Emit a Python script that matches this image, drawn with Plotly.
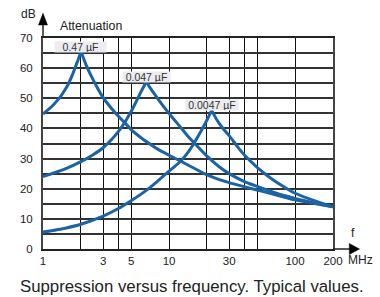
import plotly.graph_objects as go
import math

# ---- data (frequency in MHz, attenuation in dB) ----
cap_labels = ["0.47 µF", "0.047 µF", "0.0047 µF"]

a_rise_f = [1, 1.1, 1.2, 1.3, 1.4, 1.5, 1.6, 1.7, 1.8, 1.9, 2]
a_rise_db = [44.8, 46.2, 47.7, 49.3, 51.0, 52.9, 55.0, 57.5, 60.2, 62.8, 65.5]
a_fall_f = [2, 2.2, 2.4, 2.7, 3, 3.5, 4, 4.5, 5, 6, 7, 8, 10, 12.4, 15, 20, 30, 40, 50, 70, 100, 150, 200]
a_fall_db = [65.5, 61.0, 57.6, 53.5, 50.2, 46.6, 43.9, 41.7, 39.6, 36.9, 34.9, 33.3, 31.1, 29.1,
             27.3, 24.6, 22.0, 20.6, 19.6, 18.0, 16.3, 14.9, 14.0]

b_rise_f = [1, 1.5, 2, 2.5, 3, 3.5, 4, 4.5, 5, 5.5, 6, 6.6]
b_rise_db = [24.0, 26.6, 29.0, 31.3, 33.6, 36.3, 39.2, 42.3, 45.6, 49.0, 52.2, 55.5]
b_fall_f = [6.6, 7, 8, 9, 10, 12, 14, 16, 20, 25, 30, 40, 50, 70, 100, 150, 200]
b_fall_db = [55.5, 53.8, 50.3, 47.4, 45.0, 41.0, 37.6, 35.0, 30.8, 27.3, 25.0, 22.3, 20.8,
             18.6, 16.8, 15.1, 14.0]

c_rise_f = [1, 1.5, 2, 3, 4, 5, 6, 7, 8, 10, 12, 14, 16, 18, 20, 21.8]
c_rise_db = [5.6, 6.9, 8.2, 10.9, 13.5, 16.0, 18.2, 20.3, 22.3, 25.8, 28.6, 31.8, 35.5, 39.2,
             42.8, 46.0]
c_fall_f = [21.8, 24, 27, 30, 35, 40, 50, 60, 70, 100, 150, 200]
c_fall_db = [46.0, 42.8, 39.8, 37.6, 33.9, 31.0, 27.1, 24.4, 22.4, 18.5, 15.7, 14.0]

x_grid_vals = [1, 2, 3, 4, 5, 10, 20, 30, 40, 50, 100, 200]
x_tick_text = ["1", "", "3", "", "5", "10", "", "30", "", "", "100", "200"]
y_grid_vals = [0, 5, 10, 15, 20, 25, 30, 35, 40, 45, 50, 55, 60, 65, 70]
y_tick_text = ["0", "", "10", "", "20", "", "30", "", "40", "", "50", "", "60", "", "70"]

peaks_f = [a_rise_f[-1], b_rise_f[-1], c_rise_f[-1]]
peaks_db = [a_rise_db[-1], b_rise_db[-1], c_rise_db[-1]]
box_widths = [51, 47, 52]

BLUE = "#1b63a5"
FONT = "Liberation Sans, Arial, sans-serif"

fig = go.Figure()
for fx, fy in [(a_rise_f, a_rise_db), (a_fall_f, a_fall_db),
               (b_rise_f, b_rise_db), (b_fall_f, b_fall_db),
               (c_rise_f, c_rise_db), (c_fall_f, c_fall_db)]:
    fig.add_trace(go.Scatter(x=fx, y=fy, mode="lines",
                             line=dict(color=BLUE, width=3, shape="spline", smoothing=0.5),
                             showlegend=False, hoverinfo="skip", cliponaxis=False))

for lab, pf, pd, w in zip(cap_labels, peaks_f, peaks_db, box_widths):
    fig.add_annotation(x=math.log10(pf), y=pd, xref="x", yref="y", text=lab,
                       showarrow=False, yanchor="middle", yshift=5,
                       width=w, height=10, bgcolor="#ebebf1", borderpad=0,
                       font=dict(family=FONT, size=10.5, color="#333333"))

# axis decorations
txt = dict(family=FONT, color="#222222")
fig.add_annotation(x=-0.05, y=1.114, xref="paper", yref="paper", text="dB", showarrow=False,
                   xanchor="center", yanchor="middle", font=dict(size=12, **txt))
fig.add_annotation(x=0.053, y=1.058, xref="paper", yref="paper", text="Attenuation", showarrow=False,
                   xanchor="left", yanchor="middle", font=dict(size=12.3, **txt))
fig.add_annotation(x=1.070, y=0.074, xref="paper", yref="paper", text="f", showarrow=False,
                   xanchor="center", yanchor="middle", font=dict(size=12, **txt))
fig.add_annotation(x=1.046, y=-0.052, xref="paper", yref="paper", text="MHz", showarrow=False,
                   xanchor="left", yanchor="middle", font=dict(size=12, **txt))
fig.add_annotation(x=0.514, y=-0.180, xref="paper", yref="paper",
                   text="Suppression versus frequency. Typical values.", showarrow=False,
                   xanchor="center", yanchor="middle", font=dict(size=16.8, **txt))

fig.add_shape(type="line", xref="paper", yref="paper", x0=0, x1=0, y0=1, y1=1.065,
              line=dict(color="#222", width=1.5))
fig.add_shape(type="path", xref="paper", yref="paper",
              path="M -0.0155 1.0616 L 0.0155 1.0616 L 0 1.117 Z",
              fillcolor="black", line=dict(color="black", width=0.5))
fig.add_shape(type="line", xref="paper", yref="paper", x0=1, x1=1.058, y0=0, y1=0,
              line=dict(color="#222", width=1.5))
fig.add_shape(type="path", xref="paper", yref="paper",
              path="M 1.0562 -0.0261 L 1.0562 0.0261 L 1.0914 0 Z",
              fillcolor="black", line=dict(color="black", width=0.5))

fig.update_xaxes(type="log", range=[0, math.log10(200)], tickmode="array",
                 tickvals=x_grid_vals, ticktext=x_tick_text, showgrid=True,
                 gridcolor="#111111", gridwidth=1.2, showline=True, mirror=True,
                 linecolor="#222222", linewidth=1.5, ticks="", zeroline=False,
                 tickfont=dict(family=FONT, size=11.5, color="#222222"),
                 ticklabelstandoff=0)
fig.update_yaxes(range=[0, 70], tickmode="array", tickvals=y_grid_vals, ticktext=y_tick_text,
                 showgrid=True, gridcolor="#333333", gridwidth=1.5, showline=True, mirror=True,
                 linecolor="#444444", linewidth=2, ticks="", zeroline=False,
                 tickfont=dict(family=FONT, size=11.5, color="#222222"),
                 ticklabelstandoff=6)

fig.update_layout(width=380, height=297, margin=dict(l=43, r=47, t=38, b=48),
                  paper_bgcolor="white", plot_bgcolor="white", showlegend=False)

fig.write_html("out.html", config={"displayModeBar": False},
               post_script="document.body.style.margin='0';")
